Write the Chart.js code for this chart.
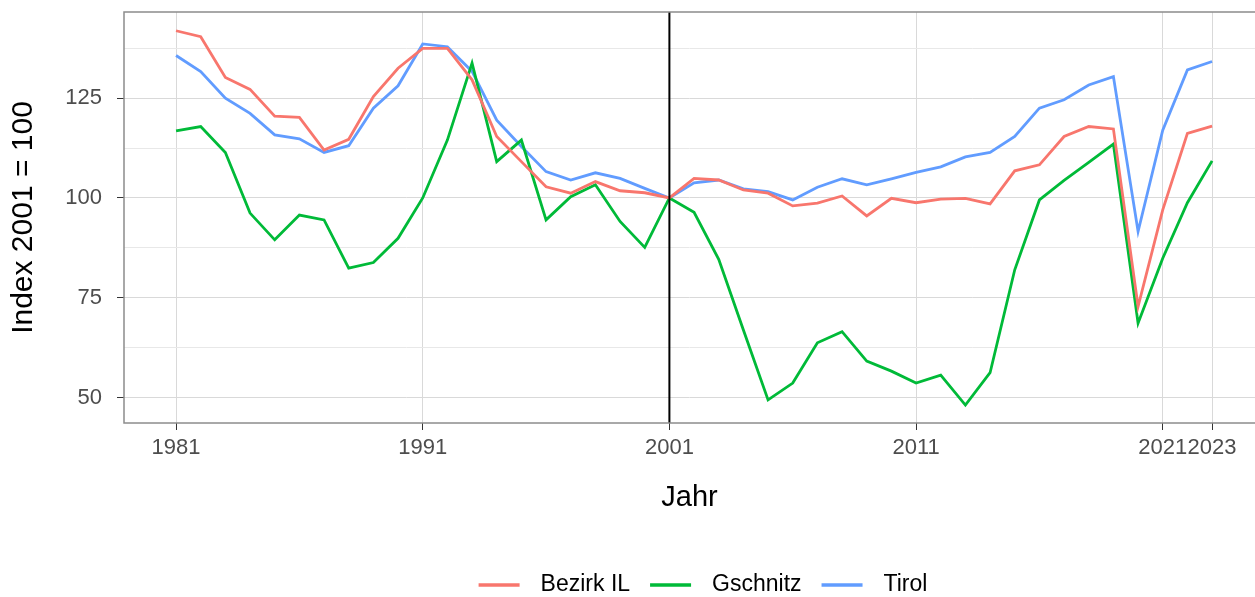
<!DOCTYPE html>
<html>
<head>
<meta charset="utf-8">
<script src="https://cdn.jsdelivr.net/npm/chart.js@4.4.1/dist/chart.umd.min.js"></script>
<style>
  html, body { margin: 0; padding: 0; background: #fff; }
  #wrap { width: 1255px; height: 597px; }
</style>
</head>
<body>
<div id="wrap"><canvas id="chart"></canvas></div>
<script>
const years = []
for (let y = 1981; y <= 2023; y++) years.push(y)

const bezirkIL = [141.9, 140.4, 130.2, 127.2, 120.5, 120.2, 112.0, 114.7, 125.4, 132.5,
  137.5, 137.5, 129.6, 115.4, 109.1, 102.8, 101.2, 104.1, 101.8, 101.3,
  100.0, 104.9, 104.5, 102.0, 101.2, 98.0, 98.7, 100.5, 95.5, 99.9,
  98.8, 99.7, 99.9, 98.5, 106.8, 108.3, 115.4, 117.9, 117.3, 72.8,
  97.0, 116.2, 118.0]
const gschnitz = [116.8, 117.9, 111.4, 96.2, 89.5, 95.7, 94.5, 82.4, 83.8, 89.9,
  100.0, 114.5, 133.8, 109.1, 114.5, 94.5, 100.3, 103.3, 94.1, 87.6,
  100.0, 96.4, 84.6, 66.9, 49.4, 53.6, 63.7, 66.5, 59.1, 56.6,
  53.6, 55.6, 48.1, 56.2, 82.0, 99.5, 104.4, 108.9, 113.5, 68.6,
  84.9, 98.8, 109.3]
const tirol = [135.7, 131.7, 125.0, 121.2, 115.8, 114.8, 111.4, 113.1, 122.5, 128.1,
  138.6, 137.9, 131.7, 119.5, 112.9, 106.6, 104.5, 106.3, 104.9, 102.4,
  100.0, 103.8, 104.5, 102.3, 101.6, 99.5, 102.7, 104.8, 103.3, 104.8,
  106.4, 107.8, 110.3, 111.4, 115.4, 122.5, 124.6, 128.3, 130.4, 91.6,
  117.0, 132.1, 134.2]

const seriesNames = ['Bezirk IL', 'Gschnitz', 'Tirol']
const xTicks = [1981, 1991, 2001, 2011, 2021, 2023]
const yTicks = [50, 62.5, 75, 87.5, 100, 112.5, 125, 137.5]
const refYear = 2001

const COLORS = {
  red: '#F8766D',
  green: '#00BA38',
  blue: '#619CFF'
}

const FONT = 'Liberation Sans'

const toPoints = (vals) => vals.map((v, i) => ({ x: years[i], y: v }))

// black line at the reference year + the grey panel border
const refLine = {
  id: 'refLine',
  afterDatasetsDraw(chart) {
    const { ctx, chartArea, scales } = chart
    const x = scales.x.getPixelForValue(refYear)
    ctx.save()
    ctx.strokeStyle = '#000'
    ctx.lineWidth = 2
    ctx.beginPath()
    ctx.moveTo(x, chartArea.top)
    ctx.lineTo(x, chartArea.bottom)
    ctx.stroke()
    ctx.strokeStyle = '#8c8c8c'
    ctx.lineWidth = 1.5
    ctx.strokeRect(chartArea.left, chartArea.top, chartArea.right - chartArea.left + 4, chartArea.bottom - chartArea.top)
    ctx.restore()
  }
}

// legend drawn the ggplot way: key line, wide gap, label
const bottomLegend = {
  id: 'bottomLegend',
  afterDraw(chart) {
    const { ctx } = chart
    const keyW = 41, keyGap = 21, itemGap = 20, cx = 703, cy = 585
    ctx.save()
    ctx.font = '23px "' + FONT + '"'
    const widths = chart.data.datasets.map(d => ctx.measureText(d.label).width)
    let total = 0
    widths.forEach((w, i) => { total += keyW + keyGap + w + (i < widths.length - 1 ? itemGap : 0) })
    let x = cx - total / 2
    ctx.textBaseline = 'middle'
    ctx.textAlign = 'left'
    chart.data.datasets.forEach((d, i) => {
      ctx.strokeStyle = d.borderColor
      ctx.lineWidth = 3.5
      ctx.beginPath()
      ctx.moveTo(x, cy)
      ctx.lineTo(x + keyW, cy)
      ctx.stroke()
      x += keyW + keyGap
      ctx.fillStyle = '#000'
      ctx.fillText(d.label, x, cy)
      x += widths[i] + itemGap
    })
    ctx.restore()
  }
}

const ds = (label, vals, color) => ({
  label: label,
  data: toPoints(vals),
  borderColor: color,
  backgroundColor: color,
  borderWidth: 2.8,
  pointRadius: 0,
  tension: 0
})

const config = {
  type: 'line',
  data: {
    datasets: [
      ds(seriesNames[0], bezirkIL, COLORS.red),
      ds(seriesNames[1], gschnitz, COLORS.green),
      ds(seriesNames[2], tirol, COLORS.blue)
    ]
  },
  options: {
    responsive: true,
    maintainAspectRatio: false,
    animation: false,
    layout: { padding: { top: 12, right: 0, left: 0, bottom: 0 } },
    plugins: {
      tooltip: { enabled: false },
      legend: { display: false }
    },
    scales: {
      x: {
        type: 'linear',
        min: 1978.89,
        max: 2024.74,
        afterBuildTicks(scale) {
          scale.ticks = xTicks.map(v => ({ value: v }))
        },
        afterFit(scale) {
          scale.height = 174
          scale.paddingLeft = 0
          scale.paddingRight = 0
        },
        ticks: {
          font: { family: FONT, size: 22 },
          color: '#4d4d4d',
          padding: 5,
          maxRotation: 0,
          autoSkip: false,
          callback: (v) => String(v)
        },
        grid: {
          color: '#d9d9d9',
          lineWidth: 1,
          tickLength: 7,
          tickColor: '#333'
        },
        border: { display: false },
        title: {
          display: true,
          text: 'Jahr',
          font: { family: FONT, size: 29 },
          color: '#000',
          padding: { top: 0, bottom: 82 }
        }
      },
      y: {
        min: 43.6,
        max: 146.6,
        afterBuildTicks(scale) {
          scale.ticks = yTicks.map(v => ({ value: v }))
        },
        afterFit(scale) {
          scale.width = 124
          scale.paddingTop = 0
          scale.paddingBottom = 0
        },
        ticks: {
          font: { family: FONT, size: 22 },
          color: '#4d4d4d',
          padding: 15,
          autoSkip: false,
          callback: (v) => (v % 25 === 0 ? String(v) : '')
        },
        grid: {
          color: (c) => (c.tick && c.tick.value % 25 === 0 ? '#d9d9d9' : '#e8e8e8'),
          lineWidth: 1,
          tickLength: 7,
          tickColor: (c) => (c.tick && c.tick.value % 25 === 0 ? '#333' : 'transparent')
        },
        border: { display: false },
        title: {
          display: true,
          text: 'Index 2001 = 100',
          font: { family: FONT, size: 30 },
          color: '#000',
          padding: { top: 6, bottom: 0 }
        }
      }
    }
  },
  plugins: [refLine, bottomLegend]
}

const chart = new Chart(document.getElementById('chart'), config)
</script>
</body>
</html>
